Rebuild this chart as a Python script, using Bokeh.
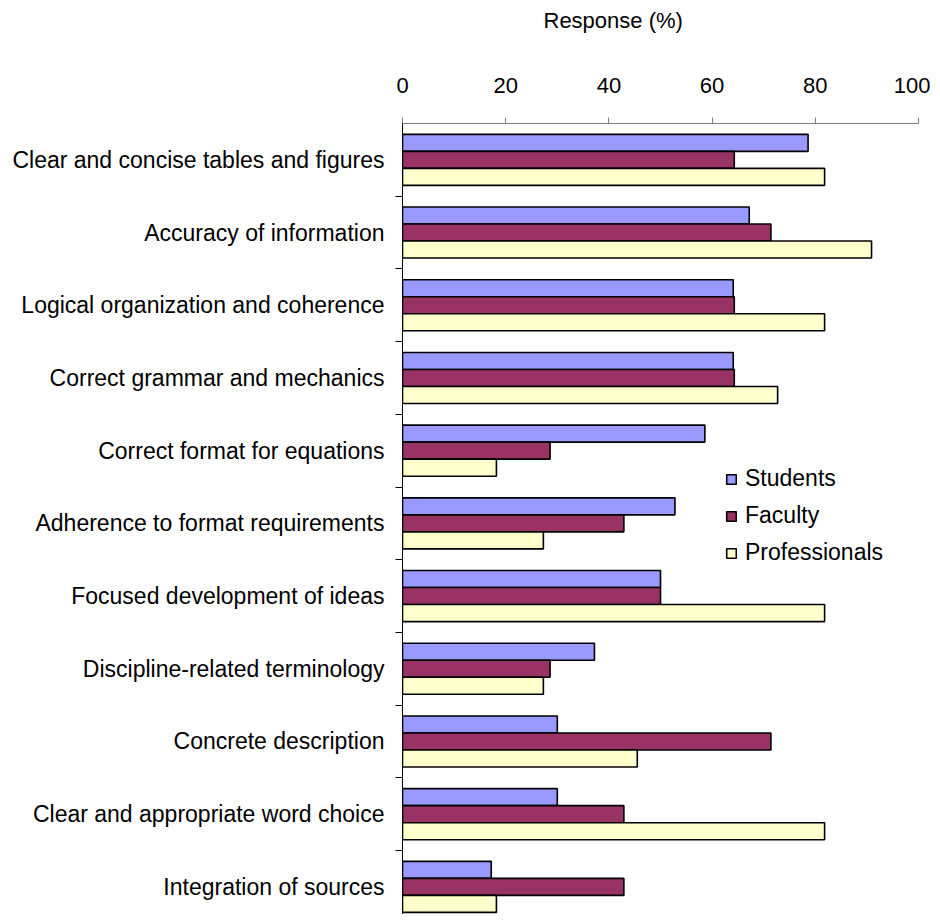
from bokeh.plotting import figure
from bokeh.models import Range1d, FixedTicker, ColumnDataSource, Legend, LegendItem
from bokeh.transform import dodge
from bokeh.embed import file_html
from bokeh.resources import INLINE

categories = [
    "Clear and concise tables and figures",
    "Accuracy of information",
    "Logical organization and coherence",
    "Correct grammar and mechanics",
    "Correct format for equations",
    "Adherence to format requirements",
    "Focused development of ideas",
    "Discipline-related terminology",
    "Concrete description",
    "Clear and appropriate word choice",
    "Integration of sources",
]
students = [78.6, 67.2, 64.1, 64.1, 58.6, 52.8, 50.0, 37.2, 30.0, 30.0, 17.2]
faculty = [64.3, 71.4, 64.3, 64.3, 28.6, 42.9, 50.0, 28.6, 71.4, 42.9, 42.9]
professionals = [81.8, 90.9, 81.8, 72.7, 18.2, 27.3, 81.8, 27.3, 45.5, 81.8, 18.2]
series_names = ["Students", "Faculty", "Professionals"]
series_colors = ["#9999FF", "#993366", "#FFFFCC"]
x_ticks = [0, 20, 40, 60, 80, 100]
axis_title = "Response (%)"

FONT = "Liberation Sans"
n = len(categories)
pos = list(range(n))

src = ColumnDataSource(dict(pos=pos, cat=categories, Students=students,
                            Faculty=faculty, Professionals=professionals))

p = figure(width=930, height=914, output_backend="svg", toolbar_location=None,
           x_range=Range1d(0, 100), y_range=Range1d(10.38, -0.5),
           x_axis_location="above", title=axis_title,
           min_border_left=402, min_border_right=12, min_border_top=123,
           min_border_bottom=0)

p.title.align = "left"
p.title.offset = 141
p.title.standoff = 0
p.title.text_font = FONT
p.title.text_font_size = "22px"
p.title.text_font_style = "normal"
p.title.text_color = "black"

p.outline_line_color = None
p.xgrid.visible = False
p.ygrid.visible = False

bw = 0.234
renderers = []
for i, (name, col) in enumerate(zip(series_names, series_colors)):
    r = p.hbar(y=dodge("pos", (i - 1) * bw, range=p.y_range), right=name, left=0,
               height=bw, source=src, fill_color=col, line_color="black",
               line_width=1.6)
    renderers.append(r)

xa = p.xaxis[0]
xa.ticker = FixedTicker(ticks=x_ticks)
xa.axis_line_color = "#808080"
xa.major_tick_line_color = "#808080"
xa.major_tick_out = 6
xa.major_tick_in = 0
xa.minor_tick_line_color = None
xa.major_label_text_font = FONT
xa.major_label_text_font_size = "22px"
xa.major_label_text_color = "black"
xa.major_label_standoff = 25
# spacer between the tick labels and the title
xa.axis_label = " "
xa.axis_label_text_font_size = "1px"
xa.axis_label_standoff = 38

ya = p.yaxis[0]
ya.ticker = FixedTicker(ticks=pos, minor_ticks=[k + 0.5 for k in pos[:-1]])
ya.major_label_overrides = {k: c for k, c in zip(pos, categories)}
ya.axis_line_color = "black"
ya.major_tick_out = 0
ya.major_tick_in = 0
ya.minor_tick_out = 7
ya.minor_tick_in = 0
ya.minor_tick_line_color = "black"
ya.major_label_text_font = FONT
ya.major_label_text_font_size = "23px"
ya.major_label_text_color = "black"
ya.major_label_standoff = 11

legend = Legend(items=[LegendItem(label=nm, renderers=[r]) for nm, r in zip(series_names, renderers)],
                location=(323, 348), padding=0, margin=0, border_line_color=None,
                background_fill_alpha=0, glyph_width=12, glyph_height=12,
                label_standoff=8, label_height=26, spacing=10,
                label_text_font=FONT, label_text_font_size="23px",
                label_text_color="black")
p.add_layout(legend, "center")

open("out.html", "w").write(file_html(p, INLINE))
